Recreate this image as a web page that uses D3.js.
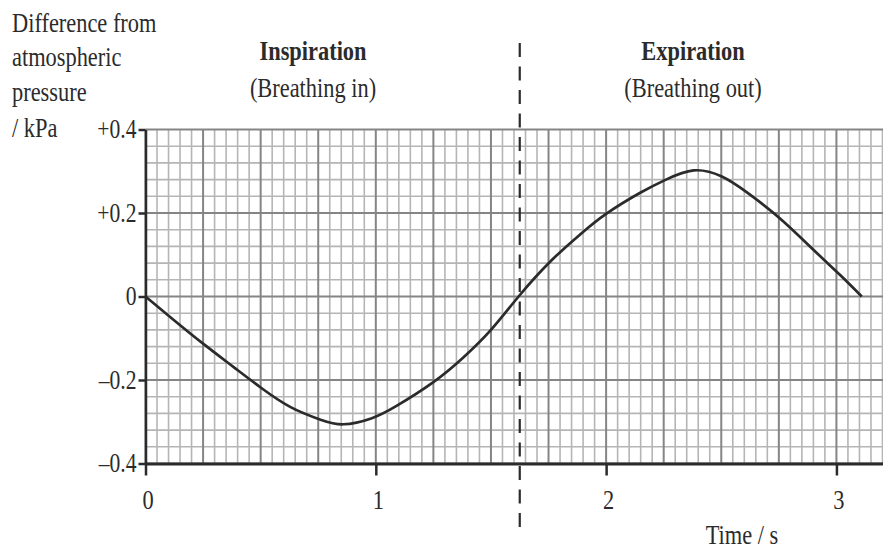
<!DOCTYPE html>
<html>
<head>
<meta charset="utf-8">
<script src="https://cdn.jsdelivr.net/npm/d3@7"></script>
<style>
  body { margin: 0; background: #fff; }
  svg { display: block; }
  text { font-family: "Liberation Serif", "Times New Roman", serif; fill: #2b2b2b; }
</style>
</head>
<body>
<svg id="chart" width="883" height="551"></svg>
<script>
// Pressure in the lungs relative to the atmosphere over one breath
const timeS = [0, 0.12, 0.25, 0.38, 0.5, 0.63, 0.76, 0.86, 0.98, 1.09, 1.25, 1.38, 1.5, 1.62,
               1.76, 1.89, 2.0, 2.15, 2.26, 2.38, 2.5, 2.61, 2.755, 2.9, 3.015, 3.11];
const pressureKPa = [0, -0.055, -0.113, -0.168, -0.218, -0.265, -0.295, -0.306, -0.292, -0.262, -0.205, -0.146, -0.080, 0,
                     0.085, 0.150, 0.198, 0.249, 0.280, 0.302, 0.288, 0.250, 0.187, 0.112, 0.052, 0];
const yTickValues = [-0.4, -0.2, 0, 0.2, 0.4];
const yTickLabels = ["\u20130.4", "\u20130.2", "0", "+0.2", "+0.4"];
const xTickValues = [0, 1, 2, 3];
const yTitleLines = ["Difference from", "atmospheric", "pressure", "/ kPa"];
const phaseTitles = ["Inspiration", "Expiration"];
const phaseNotes = ["(Breathing in)", "(Breathing out)"];
const phaseBoundary = 1.625;
const xAxisTitle = "Time / s";

const svg = d3.select("#chart");
const SX = 0.8;             // narrow serif look
const FS = 28;

const x = d3.scaleLinear().domain([0, 3.25]).range([145.5, 894]);
const y = d3.scaleLinear().domain([-0.4, 0.4]).range([463.5, 129.5]);

function addText(str, px, py, anchor, weight) {
  return svg.append("text")
    .attr("transform", `translate(${px},${py}) scale(${SX},1)`)
    .attr("text-anchor", anchor)
    .attr("font-size", FS)
    .attr("font-weight", weight || "normal")
    .text(str);
}

// graph-paper grid: fine lines every 0.05 s / 0.04 kPa, heavier every 0.25 s / 0.2 kPa
const grid = svg.append("g");
const vLines = d3.range(0, 66).map(i => ({ t: i * 0.05, major: i % 5 === 0 }));
const hLines = d3.range(0, 21).map(j => ({ v: -0.4 + j * 0.04, major: j % 5 === 0 }));
const drawGrid = major => {
  grid.selectAll(null).data(vLines.filter(d => d.major === major)).join("line")
    .attr("x1", d => x(d.t)).attr("x2", d => x(d.t))
    .attr("y1", y(0.4)).attr("y2", y(-0.4))
    .attr("stroke", major ? "#858585" : "#b5b5b5")
    .attr("stroke-width", major ? 2 : 1.6);
  grid.selectAll(null).data(hLines.filter(d => d.major === major)).join("line")
    .attr("x1", x(0)).attr("x2", x(3.25))
    .attr("y1", d => y(d.v)).attr("y2", d => y(d.v))
    .attr("stroke", major ? "#858585" : "#b5b5b5")
    .attr("stroke-width", major ? 2 : 1.6);
};
drawGrid(false);
drawGrid(true);

// axes
const yAxis = d3.axisLeft(y).tickValues(yTickValues)
  .tickFormat((d, i) => yTickLabels[i]).tickSize(7).tickPadding(2).tickSizeOuter(0);
const gy = svg.append("g").attr("transform", `translate(${x(0)},0)`).call(yAxis);
gy.select(".domain").attr("stroke", "#2b2b2b").attr("stroke-width", 2.5);
gy.selectAll(".tick line").attr("stroke", "#2b2b2b").attr("stroke-width", 2.5);
gy.selectAll(".tick text")
  .attr("font-size", FS - 1).attr("font-family", null).attr("fill", "#2b2b2b")
  .attr("x", -9 / SX).attr("dy", "0.3em")
  .attr("transform", `scale(${SX},1)`);

const xAxis = d3.axisBottom(x).tickValues(xTickValues)
  .tickFormat(d3.format("d")).tickSize(12).tickPadding(13.5).tickSizeOuter(0);
const gx = svg.append("g").attr("transform", `translate(0,${y(-0.4)})`).call(xAxis);
gx.select(".domain").attr("stroke", "#2b2b2b").attr("stroke-width", 3);
gx.selectAll(".tick line").attr("stroke", "#2b2b2b").attr("stroke-width", 2.5);
gx.selectAll(".tick text")
  .attr("font-size", FS).attr("font-family", null).attr("fill", "#2b2b2b")
  .attr("transform", `translate(2,0) scale(${SX},1)`);

// boundary between breathing in and breathing out
svg.append("line")
  .attr("x1", x(phaseBoundary)).attr("x2", x(phaseBoundary))
  .attr("y1", 43).attr("y2", 530)
  .attr("stroke", "#2b2b2b").attr("stroke-width", 2.2)
  .attr("stroke-dasharray", "14 9.5");

// pressure curve
const line = d3.line()
  .x((d, i) => x(timeS[i]))
  .y(d => y(d))
  .curve(d3.curveNatural);
svg.append("path")
  .attr("d", line(pressureKPa))
  .attr("fill", "none")
  .attr("stroke", "#2b2b2b")
  .attr("stroke-width", 2.7)
  .attr("stroke-linejoin", "round");

// titles
const titleBaselines = [32, 66, 101, 137];
yTitleLines.forEach((s, i) => addText(s, 12, titleBaselines[i], "start"));
const phaseCenters = [313, 693];
phaseTitles.forEach((s, i) => addText(s, phaseCenters[i], 60, "middle", "bold"));
phaseNotes.forEach((s, i) => addText(s, phaseCenters[i], 97, "middle"));
addText(xAxisTitle, 742, 544, "middle");
</script>
</body>
</html>
